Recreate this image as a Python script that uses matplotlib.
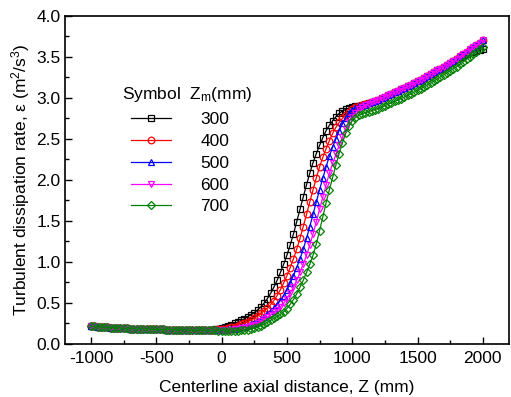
import numpy as np
import matplotlib.pyplot as plt
from matplotlib.ticker import MultipleLocator

plt.rcParams['font.family'] = ['Liberation Sans', 'DejaVu Sans']
plt.rcParams['mathtext.fontset'] = 'custom'
plt.rcParams['mathtext.rm'] = 'Liberation Sans'
plt.rcParams['mathtext.it'] = 'Liberation Sans:italic'
plt.rcParams['axes.unicode_minus'] = False

# axial positions (mm): shared upstream part and the rising part
z_upstream = np.arange(-1000, -100, 25)      # -1000 .. -125
z_rise = np.arange(-100, 1201, 25)           # -100 .. 1200
z_tail = np.arange(1225, 2001, 25)           # 1225 .. 2000

# upstream values, same for every Zm
eps_upstream = [0.215, 0.212, 0.209, 0.206, 0.203, 0.200, 0.198, 0.196, 0.194, 0.192,
                0.190, 0.188, 0.186, 0.185, 0.184, 0.182, 0.181, 0.180, 0.179, 0.178,
                0.177, 0.176, 0.175, 0.174, 0.173, 0.172, 0.171, 0.170, 0.169, 0.168,
                0.168, 0.167, 0.167, 0.166, 0.166, 0.166]

# rising part, -100 .. 1200 mm
rise_300 = [0.168, 0.172, 0.178, 0.186, 0.196, 0.210, 0.220, 0.235, 0.250, 0.265,
            0.285, 0.305, 0.330, 0.355, 0.380, 0.412, 0.450, 0.495, 0.550, 0.615,
            0.690, 0.775, 0.870, 0.970, 1.080, 1.205, 1.340, 1.490, 1.640, 1.790,
            1.940, 2.080, 2.210, 2.320, 2.420, 2.515, 2.600, 2.665, 2.720, 2.770,
            2.810, 2.840, 2.860, 2.875, 2.890, 2.900, 2.905, 2.912, 2.920, 2.935,
            2.950, 2.965, 2.980]
rise_400 = [0.168, 0.170, 0.172, 0.175, 0.180, 0.185, 0.192, 0.200, 0.210, 0.222,
            0.236, 0.252, 0.270, 0.290, 0.313, 0.340, 0.370, 0.400, 0.435, 0.477,
            0.528, 0.589, 0.660, 0.741, 0.832, 0.930, 1.036, 1.155, 1.286, 1.430,
            1.580, 1.730, 1.880, 2.024, 2.158, 2.276, 2.380, 2.477, 2.566, 2.640,
            2.700, 2.750, 2.790, 2.830, 2.860, 2.885, 2.900, 2.912, 2.920, 2.935,
            2.950, 2.965, 2.980]
rise_500 = [0.167, 0.168, 0.169, 0.170, 0.172, 0.174, 0.177, 0.181, 0.186, 0.192,
            0.200, 0.210, 0.222, 0.237, 0.255, 0.277, 0.303, 0.333, 0.366, 0.400,
            0.435, 0.477, 0.528, 0.589, 0.660, 0.741, 0.832, 0.930, 1.036, 1.155,
            1.286, 1.430, 1.580, 1.730, 1.880, 2.024, 2.158, 2.290, 2.400, 2.500,
            2.600, 2.690, 2.760, 2.810, 2.850, 2.875, 2.895, 2.905, 2.915, 2.935,
            2.950, 2.965, 2.980]
rise_600 = [0.166, 0.166, 0.166, 0.167, 0.168, 0.169, 0.171, 0.174, 0.178, 0.183,
            0.190, 0.198, 0.208, 0.220, 0.235, 0.253, 0.275, 0.300, 0.328, 0.355,
            0.382, 0.412, 0.450, 0.495, 0.550, 0.615, 0.690, 0.775, 0.870, 0.970,
            1.080, 1.205, 1.340, 1.490, 1.640, 1.790, 1.940, 2.080, 2.200, 2.310,
            2.420, 2.520, 2.620, 2.710, 2.770, 2.820, 2.860, 2.890, 2.910, 2.930,
            2.950, 2.965, 2.980]
rise_700 = [0.165, 0.164, 0.163, 0.162, 0.160, 0.158, 0.157, 0.157, 0.158, 0.160,
            0.163, 0.167, 0.172, 0.180, 0.190, 0.203, 0.220, 0.240, 0.262, 0.287,
            0.312, 0.335, 0.360, 0.390, 0.430, 0.480, 0.540, 0.610, 0.690, 0.775,
            0.870, 0.970, 1.080, 1.220, 1.380, 1.550, 1.720, 1.880, 2.030, 2.180,
            2.320, 2.450, 2.570, 2.660, 2.720, 2.760, 2.785, 2.805, 2.820, 2.832,
            2.845, 2.857, 2.870]

# downstream part, 1225 .. 2000 mm
tail_top = [2.997, 3.015, 3.032, 3.050, 3.067, 3.085, 3.102, 3.120, 3.140, 3.160,
            3.180, 3.200, 3.222, 3.245, 3.267, 3.290, 3.312, 3.335, 3.357, 3.380,
            3.405, 3.430, 3.455, 3.480, 3.507, 3.535, 3.562, 3.590, 3.617, 3.645,
            3.672, 3.700]
tail_300 = [2.997, 3.015, 3.032, 3.050, 3.067, 3.085, 3.102, 3.120, 3.140, 3.160,
            3.180, 3.200, 3.222, 3.245, 3.267, 3.290, 3.312, 3.335, 3.357, 3.380,
            3.405, 3.430, 3.455, 3.480, 3.500, 3.520, 3.540, 3.555, 3.565, 3.575,
            3.585, 3.595]
tail_700 = [2.887, 2.905, 2.922, 2.940, 2.957, 2.975, 2.992, 3.010, 3.030, 3.050,
            3.070, 3.090, 3.112, 3.135, 3.157, 3.180, 3.205, 3.230, 3.255, 3.280,
            3.305, 3.330, 3.355, 3.380, 3.410, 3.440, 3.470, 3.500, 3.530, 3.560,
            3.590, 3.620]

labels = ['300', '400', '500', '600', '700']
rises = [rise_300, rise_400, rise_500, rise_600, rise_700]
tails = [tail_300, tail_top, tail_top, tail_top, tail_700]
colors = ['black', '#FF0000', '#0000FF', '#FF00FF', '#008000']
markers = ['s', 'o', '^', 'v', 'D']
msizes = [4.4, 4.8, 5.0, 5.0, 4.2]

z_all = np.concatenate([z_upstream, z_rise, z_tail])

fig = plt.figure(figsize=(5.11, 3.97), dpi=100)
ax = fig.add_axes([0.127, 0.134, 0.869, 0.826])

for lab, rise, tail, c, m, ms in zip(labels, rises, tails, colors, markers, msizes):
    eps = np.concatenate([eps_upstream, rise, tail])
    ax.plot(z_all, eps, color=c, marker=m, ms=ms, mfc='none', mec=c, mew=0.9,
            lw=0.9, label=lab)

ax.set_xlim(-1200, 2200)
ax.set_ylim(0, 4.0)
ax.xaxis.set_major_locator(MultipleLocator(500))
ax.xaxis.set_minor_locator(MultipleLocator(250))
ax.yaxis.set_major_locator(MultipleLocator(0.5))
ax.yaxis.set_minor_locator(MultipleLocator(0.25))
ax.yaxis.set_major_formatter(plt.FormatStrFormatter('%.1f'))
ax.tick_params(which='both', direction='in', top=False, right=False, labelsize=12.5)
ax.tick_params(which='major', length=5, width=1.0)
ax.tick_params(which='minor', length=3, width=1.0)
ax.tick_params(axis='x', pad=5)
ax.tick_params(axis='y', pad=3)
for s in ax.spines.values():
    s.set_linewidth(1.2)

ax.set_xlabel('Centerline axial distance, Z (mm)', fontsize=12.5, labelpad=10)
ax.set_ylabel('Turbulent dissipation rate, \u03b5 (m$^\\mathregular{2}$/s$^\\mathregular{3}$)',
              fontsize=12.5, labelpad=3)

# legend header drawn as text, entries as a plain legend below it
ax.text(0.129, 0.759, 'Symbol  $\\mathregular{Z_m}$(mm)', transform=ax.transAxes,
        fontsize=12.5, ha='left', va='center')
leg = ax.legend(loc='upper left', bbox_to_anchor=(0.149, 0.706), frameon=False,
                fontsize=12.5, handlelength=2.3, handletextpad=1.7,
                labelspacing=0.38, borderaxespad=0, borderpad=0)

fig.savefig('out.png', dpi=100, facecolor='white')
